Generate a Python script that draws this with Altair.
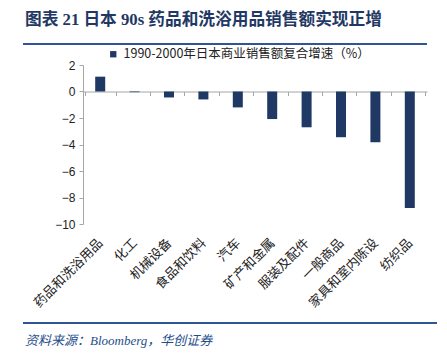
import altair as alt
import pandas as pd

categories = ["药品和洗浴用品", "化工", "机械设备", "食品和饮料", "汽车",
              "矿产和金属", "服装及配件", "一般商品", "家具和室内陈设", "纺织品"]
values = [1.12, -0.05, -0.45, -0.6, -1.2, -2.08, -2.7, -3.45, -3.83, -8.8]
series_name = "1990-2000年日本商业销售额复合增速（%）"
y_ticks = [2, 0, -2, -4, -6, -8, -10]
title_text = "图表 21 日本 90s 药品和洗浴用品销售额实现正增"
source_text = "资料来源：Bloomberg，华创证券"

W, H = 344, 159
df = pd.DataFrame({"cat": categories, "val": values, "series": [series_name] * len(categories)})

navy = "#1F3864"
blue = "#2F5597"
cjk = "Noto Sans CJK SC"
serif = "Liberation Serif, Noto Sans CJK SC"

bars = alt.Chart(df).mark_bar(size=10, color=navy).encode(
    x=alt.X("cat:N", sort=categories, title=None,
            axis=alt.Axis(offset=-132.5, tickBand="extent", labelAngle=-45,
                          labelPadding=145, labelFont=cjk, labelFontSize=13,
                          labelColor="#222222", domainColor="#A6A6A6",
                          tickColor="#A6A6A6", tickSize=4, labelAlign="right",
                          labelBaseline="middle", labelLimit=0)),
    y=alt.Y("val:Q", scale=alt.Scale(domain=[-10, 2], nice=False), title=None,
            axis=alt.Axis(values=y_ticks, grid=False, labelFont="Liberation Sans",
                          labelFontSize=12, labelColor="#222222",
                          domainColor="#A6A6A6", tickColor="#A6A6A6", tickSize=4,
                          labelPadding=4)),
    color=alt.Color("series:N", scale=alt.Scale(range=[navy]),
                    legend=alt.Legend(title=None, orient="none", legendX=24, legendY=-17,
                                      symbolType="square", symbolSize=40,
                                      labelFont=cjk, labelFontSize=12.5, labelLimit=0,
                                      labelColor="#222222", symbolStrokeWidth=0)),
)

title = alt.Chart(pd.DataFrame({"t": [title_text]})).mark_text(
    font=serif, fontSize=16.7, fontWeight="bold", color=navy, align="left", baseline="middle"
).encode(text="t:N", x=alt.value(-58), y=alt.value(-45))

title_line = alt.Chart(pd.DataFrame({"a": [0]})).mark_rule(color=blue, strokeWidth=2).encode(
    x=alt.value(-60), x2=alt.value(W), y=alt.value(-21))

foot_line = alt.Chart(pd.DataFrame({"a": [0]})).mark_rule(color=blue, strokeWidth=2).encode(
    x=alt.value(-60), x2=alt.value(W + 10), y=alt.value(258))

source = alt.Chart(pd.DataFrame({"t": [source_text]})).mark_text(
    font=serif, fontSize=13, fontStyle="italic", color="#1F4E8C", align="left", baseline="middle"
).encode(text="t:N", x=alt.value(-58), y=alt.value(276))

chart = alt.layer(bars, title, title_line, foot_line, source).properties(
    width=W, height=H,
    padding={"left": 83, "top": 65, "right": 20, "bottom": 133},
    autosize=alt.AutoSizeParams(type="none"),
).configure_view(stroke=None)

chart.save("out.html", embed_options={"renderer": "svg", "actions": False})
